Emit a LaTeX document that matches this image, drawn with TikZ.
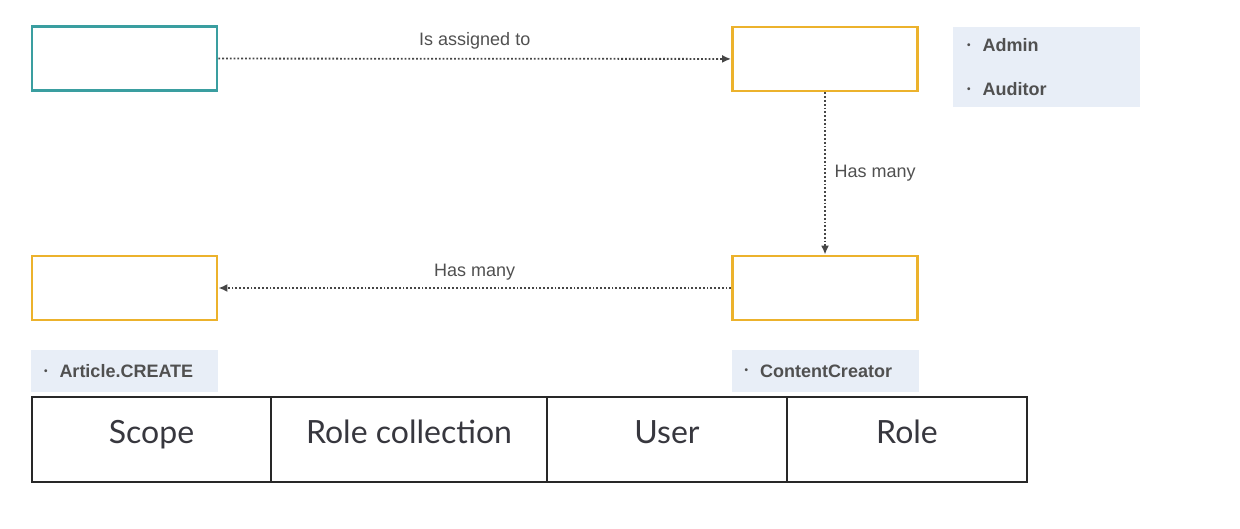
\documentclass[tikz,border=0pt]{standalone}
\usepackage{fontspec}
\setmainfont{Liberation Sans}
\newfontfamily\cellfont{Lato}
\usetikzlibrary{arrows.meta, positioning}
\definecolor{entityteal}{RGB}{58,158,160}
\definecolor{entityyellow}{RGB}{236,178,44}
\definecolor{infofill}{RGB}{232,238,247}
\definecolor{labelgray}{RGB}{80,80,80}
\definecolor{flowgray}{RGB}{70,70,70}
\definecolor{tableline}{RGB}{40,40,40}
\definecolor{celltext}{RGB}{55,55,62}
\newcommand{\infobullet}{\raisebox{1.6pt}{\tiny\textbullet}\hspace{6pt}}
\begin{document}
\begin{tikzpicture}[
    x=0.5pt, y=-0.5pt,
    entity/.style={draw, line width=1.4pt, minimum width=92.5pt, minimum height=32pt, inner sep=0pt},
    infobox/.style={fill=infofill, minimum width=93.5pt, inner sep=0pt, font=\bfseries\small, text=labelgray, align=left},
    cell/.style={draw=tableline, line width=0.9pt, outer sep=0pt, minimum height=42.5pt, inner sep=0pt,
        text height=10pt, text depth=6pt, font=\cellfont\fontsize{16}{19}\selectfont, text=celltext},
    relation/.style={-{Latex[length=4.5pt, width=4pt]}, draw=flowgray, line width=0.9pt, densely dotted},
    rellabel/.style={font=\small, text=labelgray}
]
    \useasboundingbox (0,0) rectangle (1240,529);

    % Empty entity boxes
    \node[entity, draw=entityteal] (userbox) at (124.5,58.5) {};
    \node[entity, draw=entityyellow] (rolecollbox) at (825,59) {};
    \node[entity, draw=entityyellow] (rolebox) at (825,288) {};
    \node[entity, draw=entityyellow] (scopebox) at (124.5,288) {};

    % Examples
    \node[infobox, minimum height=40pt, text width=79.5pt, inner xsep=7pt] (rolecollinfo) at (1046.5,67)
        {\infobullet Admin\\[11pt]\infobullet Auditor};
    \node[infobox, minimum height=21pt, text width=80.5pt, inner xsep=6pt] (scopeinfo) at (124.5,371)
        {\infobullet Article.CREATE};
    \node[infobox, minimum height=21pt, text width=80.5pt, inner xsep=6pt] (roleinfo) at (825,371)
        {\infobullet ContentCreator};

    % Relations
    \draw[relation] (userbox) -- node[rellabel, above=1pt] {Is assigned to} (rolecollbox);
    \draw[relation] (rolecollbox) -- node[rellabel, right=1pt] {Has many} (rolebox);
    \draw[relation] (rolebox) -- node[rellabel, above=0pt] {Has many} (scopebox);

    % Answer table
    \node[cell, minimum width=119.5pt] (scopecell) at (151.5,439.5) {Scope};
    \node[cell, minimum width=138pt, right=0pt of scopecell] (rolecollcell) {Role collection};
    \node[cell, minimum width=120pt, right=0pt of rolecollcell] (usercell) {User};
    \node[cell, minimum width=120pt, right=0pt of usercell] (rolecell) {Role};
\end{tikzpicture}
\end{document}
